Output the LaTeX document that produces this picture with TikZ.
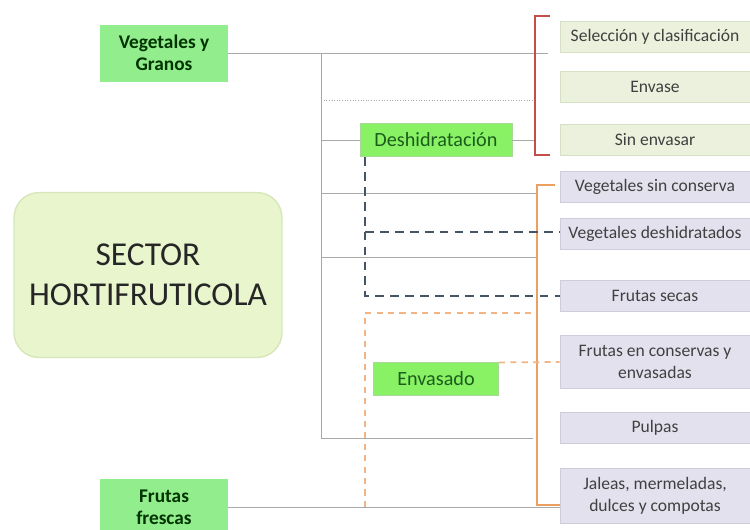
\documentclass[tikz,border=0pt]{standalone}
\usepackage{fontspec}
\setmainfont{Carlito}
\definecolor{sectorfill}{RGB}{233,246,205}
\definecolor{sectorline}{RGB}{214,230,186}
\definecolor{keygreen}{RGB}{146,238,140}
\definecolor{stepgreen}{RGB}{136,242,100}
\definecolor{textgreen}{RGB}{28,92,28}
\definecolor{prodgreen}{RGB}{235,241,221}
\definecolor{prodgreenline}{RGB}{214,224,196}
\definecolor{prodlilac}{RGB}{228,225,238}
\definecolor{prodlilacline}{RGB}{208,204,222}
\definecolor{bracketred}{RGB}{196,78,74}
\definecolor{bracketorange}{RGB}{236,160,96}
\definecolor{dashslate}{RGB}{70,84,104}
\definecolor{dashpeach}{RGB}{242,180,132}
\definecolor{linegrey}{RGB}{168,168,168}

\begin{document}
\begin{tikzpicture}[x=0.02cm,y=-0.02cm]

%
% Styles
%
\tikzstyle{sector} = [rectangle,rounded corners=0.5cm,draw=sectorline,thick,fill=sectorfill,minimum width=5.36cm,minimum height=3.3cm,align=center,font=\fontsize{19}{23}\selectfont,text=black!85]
\tikzstyle{keybox} = [rectangle,fill=keygreen,minimum width=2.56cm,minimum height=1.14cm,align=center,font=\fontsize{11}{12.5}\selectfont\bfseries,text=black!80!green]
\tikzstyle{stepbox} = [rectangle,draw=stepgreen!80!black!60,fill=stepgreen,minimum height=0.65cm,font=\fontsize{11.5}{13}\selectfont,text=textgreen]
\tikzstyle{prodg} = [rectangle,draw=prodgreenline,fill=prodgreen,minimum width=3.8cm,minimum height=0.61cm,align=center,font=\fontsize{10}{12.5}\selectfont,text=black!75]
\tikzstyle{prodl} = [rectangle,draw=prodlilacline,fill=prodlilac,minimum width=3.8cm,minimum height=0.62cm,align=center,font=\fontsize{10}{12.5}\selectfont,text=black!75]
\tikzstyle{thin} = [draw=linegrey,line width=0.5pt]
\tikzstyle{slate} = [draw=dashslate,line width=1.4pt,dash pattern=on 5pt off 3.5pt]
\tikzstyle{peach} = [draw=dashpeach,line width=1pt,dash pattern=on 3.5pt off 3pt]

\useasboundingbox (0,0) rectangle (750,529);

% left side
\node[sector] (sec) at (148,275) {SECTOR\\HORTIFRUTICOLA};
\node[keybox] (vg) at (164,53) {Vegetales y\\Granos};
\node[keybox] (ff) at (164,507) {Frutas\\frescas};

% middle
\node[stepbox,minimum width=3.04cm] (des) at (436,140) {Deshidratación};
\node[stepbox,minimum width=2.5cm] (env) at (436,379) {Envasado};

% right side
\node[prodg] (sel) at (655,37)  {Selección y clasificación};
\node[prodg] (evs) at (655,87)  {Envase};
\node[prodg] (sin) at (655,140) {Sin envasar};
\node[prodl] (vsc) at (655,187) {Vegetales sin conserva};
\node[prodl] (vdh) at (655,234) {Vegetales deshidratados};
\node[prodl] (fse) at (655,296) {Frutas secas};
\node[prodl,minimum height=1.06cm] (fco) at (655,362) {Frutas en conservas y\\envasadas};
\node[prodl] (pul) at (655,428) {Pulpas};
\node[prodl,minimum height=1.1cm] (jal) at (655,496) {Jaleas, mermeladas,\\dulces y compotas};

% grey frame
\coordinate (f1) at (321,53);
\coordinate (f2) at (321,438);
\coordinate (f3) at (533,438);
\coordinate (r1) at (321,100);
\coordinate (r2) at (321,193);
\coordinate (r3) at (321,257);
\draw[thin] (vg.east) -- (548,53);
\draw[thin] (f1) -- (f2) -- (f3);
\draw[thin,densely dotted] (r1) -- (535,100);
\draw[thin] (des.east |- des.center) -- (535,140);
\draw[thin] (321,140) -- (des.west);
\draw[thin] (r2) -- (537,193);
\draw[thin] (r3) -- (537,257);
\draw[thin] (ff.east) -- (ff.east -| jal.west);

% brackets
\coordinate (rb1) at (535,16);
\coordinate (rb2) at (535,155);
\draw[bracketred,line width=1.3pt] ([xshift=0.3cm]rb1) -- (rb1) -- (rb2) -- ([xshift=0.3cm]rb2);
\coordinate (ob1) at (537,185);
\coordinate (ob2) at (537,505);
\draw[bracketorange,line width=1.3pt] ([xshift=0.36cm]ob1) -- (ob1) -- (ob2) -- ([xshift=0.46cm]ob2);

% dashed links
\coordinate (d0) at (365,157);
\coordinate (d1) at (365,232);
\coordinate (d2) at (365,296);
\draw[slate] (d0) -- (d2) -- (d2 -| fse.west);
\draw[slate] (d1) -- (d1 -| vdh.west);
\coordinate (o1) at (365,313);
\coordinate (o2) at (532,313);
\coordinate (o3) at (365,507);
\draw[peach] (o3) -- (o1) -- (o2);
\draw[peach] (env.north east) -- (fco.west);

\end{tikzpicture}
\end{document}
